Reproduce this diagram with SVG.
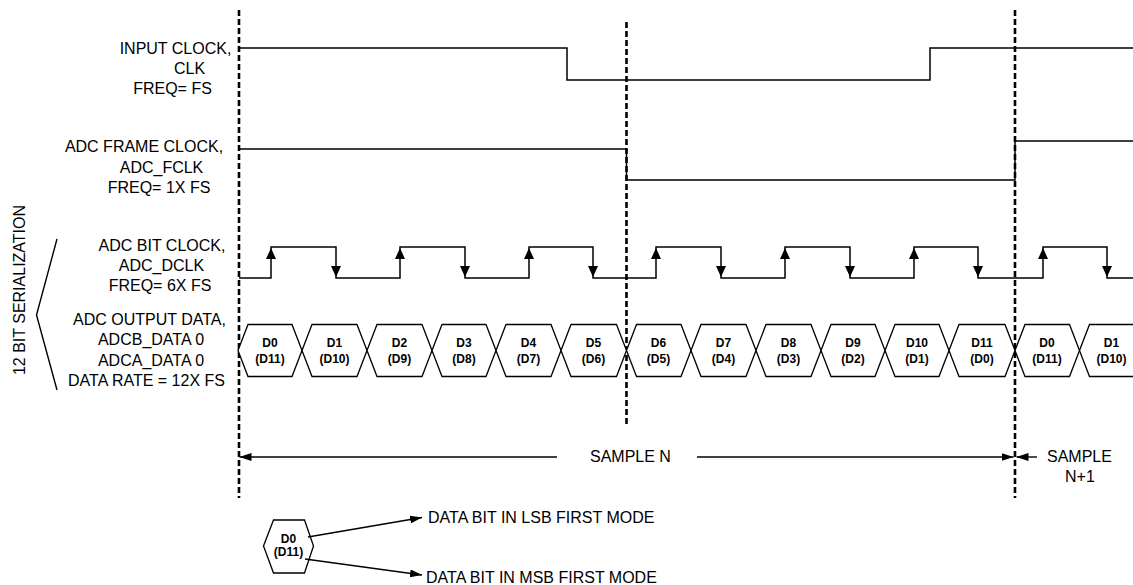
<svg xmlns="http://www.w3.org/2000/svg" xmlns:xlink="http://www.w3.org/1999/xlink" width="1133" height="585" viewBox="0 0 1133 585">
<style>
text{font-family:"Liberation Sans",Arial,sans-serif;fill:#000}
.lb{font-size:16px;text-anchor:middle}
.hx{font-size:12px;font-weight:bold;text-anchor:middle}
.w{fill:none;stroke:#000;stroke-width:1.5}
.hex{fill:#fff;stroke:#000;stroke-width:1.3}
.dash{stroke:#000;stroke-width:2.6;stroke-dasharray:6 3;fill:none}
.ln{stroke:#000;stroke-width:1.4;fill:none}
</style>
<defs>
<path id="up" d="M0,0 L-5,11 L5,11 Z" fill="#000"/>
<path id="dn" d="M0,0 L-5,-11 L5,-11 Z" fill="#000"/>
<marker id="ah" viewBox="0 0 12 8" refX="12" refY="4" markerWidth="12" markerHeight="8" markerUnits="userSpaceOnUse" orient="auto">
<path d="M0,0 L12,4 L0,8 Z" fill="#000"/>
</marker>
</defs>
<rect width="1133" height="585" fill="#fff"/>

<g id="sample-boundaries">
<line class="dash" x1="239" y1="10" x2="239" y2="498"/>
<line class="dash" x1="626.5" y1="22" x2="626.5" y2="424"/>
<line class="dash" x1="1015" y1="10" x2="1015" y2="498"/>
</g>

<g id="input-clock">
<text class="lb" x="175.5" y="54">INPUT CLOCK,</text>
<text class="lb" x="189.5" y="74">CLK</text>
<text class="lb" x="172.5" y="94">FREQ= FS</text>
<path class="w" d="M239,48 H567 V80 H930 V48 H1133"/>
</g>

<g id="frame-clock">
<text class="lb" x="144" y="152">ADC FRAME CLOCK,</text>
<text class="lb" x="161.5" y="172.5">ADC_FCLK</text>
<text class="lb" x="159" y="192.5">FREQ= 1X FS</text>
<path class="w" d="M239,149 H626.5 V180 H1015 V141 H1133"/>
</g>

<g id="bit-clock">
<text class="lb" x="162" y="251">ADC BIT CLOCK,</text>
<text class="lb" x="161.5" y="271">ADC_DCLK</text>
<text class="lb" x="160" y="291">FREQ= 6X FS</text>
<path class="w" d="M239,278 H271 V247 H336 V278 H400 V247 H465 V278 H529 V247 H593 V278 H656 V247 H721 V278 H785 V247 H850 V278 H914 V247 H978 V278 H1043 V247 H1107 V278 H1133"/>
<use xlink:href="#up" x="271" y="248"/>
<use xlink:href="#up" x="400" y="248"/>
<use xlink:href="#up" x="529" y="248"/>
<use xlink:href="#up" x="656" y="248"/>
<use xlink:href="#up" x="785" y="248"/>
<use xlink:href="#up" x="914" y="248"/>
<use xlink:href="#up" x="1043" y="248"/>
<use xlink:href="#dn" x="336" y="277"/>
<use xlink:href="#dn" x="465" y="277"/>
<use xlink:href="#dn" x="593" y="277"/>
<use xlink:href="#dn" x="721" y="277"/>
<use xlink:href="#dn" x="850" y="277"/>
<use xlink:href="#dn" x="978" y="277"/>
<use xlink:href="#dn" x="1107" y="277"/>
</g>

<g id="output-data">
<text class="lb" x="149.5" y="325">ADC OUTPUT DATA,</text>
<text class="lb" x="151" y="345">ADCB_DATA 0</text>
<text class="lb" x="151" y="365.5">ADCA_DATA 0</text>
<text class="lb" x="146.5" y="385.5">DATA RATE = 12X FS</text>
<g id="bit-d0"><polygon class="hex" points="238,350.5 248,324.5 292,324.5 302,350.5 292,376.5 248,376.5"/><text class="hx" x="270" y="347">D0</text><text class="hx" x="270" y="362.5">(D11)</text></g>
<g id="bit-d1"><polygon class="hex" points="302,350.5 312,324.5 357,324.5 367,350.5 357,376.5 312,376.5"/><text class="hx" x="334.5" y="347">D1</text><text class="hx" x="334.5" y="362.5">(D10)</text></g>
<g id="bit-d2"><polygon class="hex" points="367,350.5 377,324.5 422,324.5 432,350.5 422,376.5 377,376.5"/><text class="hx" x="399.5" y="347">D2</text><text class="hx" x="399.5" y="362.5">(D9)</text></g>
<g id="bit-d3"><polygon class="hex" points="432,350.5 442,324.5 486,324.5 496,350.5 486,376.5 442,376.5"/><text class="hx" x="464" y="347">D3</text><text class="hx" x="464" y="362.5">(D8)</text></g>
<g id="bit-d4"><polygon class="hex" points="496,350.5 506,324.5 551,324.5 561,350.5 551,376.5 506,376.5"/><text class="hx" x="528.5" y="347">D4</text><text class="hx" x="528.5" y="362.5">(D7)</text></g>
<g id="bit-d5"><polygon class="hex" points="561,350.5 571,324.5 616.5,324.5 626.5,350.5 616.5,376.5 571,376.5"/><text class="hx" x="593.5" y="347">D5</text><text class="hx" x="593.5" y="362.5">(D6)</text></g>
<g id="bit-d6"><polygon class="hex" points="626.5,350.5 636.5,324.5 681,324.5 691,350.5 681,376.5 636.5,376.5"/><text class="hx" x="658.5" y="347">D6</text><text class="hx" x="658.5" y="362.5">(D5)</text></g>
<g id="bit-d7"><polygon class="hex" points="691,350.5 701,324.5 746,324.5 756,350.5 746,376.5 701,376.5"/><text class="hx" x="723.5" y="347">D7</text><text class="hx" x="723.5" y="362.5">(D4)</text></g>
<g id="bit-d8"><polygon class="hex" points="756,350.5 766,324.5 811,324.5 821,350.5 811,376.5 766,376.5"/><text class="hx" x="788.5" y="347">D8</text><text class="hx" x="788.5" y="362.5">(D3)</text></g>
<g id="bit-d9"><polygon class="hex" points="821,350.5 831,324.5 875,324.5 885,350.5 875,376.5 831,376.5"/><text class="hx" x="853" y="347">D9</text><text class="hx" x="853" y="362.5">(D2)</text></g>
<g id="bit-d10"><polygon class="hex" points="885,350.5 895,324.5 939,324.5 949,350.5 939,376.5 895,376.5"/><text class="hx" x="917" y="347">D10</text><text class="hx" x="917" y="362.5">(D1)</text></g>
<g id="bit-d11"><polygon class="hex" points="949,350.5 959,324.5 1005,324.5 1015,350.5 1005,376.5 959,376.5"/><text class="hx" x="982" y="347">D11</text><text class="hx" x="982" y="362.5">(D0)</text></g>
<g id="next-d0"><polygon class="hex" points="1015,350.5 1025,324.5 1069.5,324.5 1079.5,350.5 1069.5,376.5 1025,376.5"/><text class="hx" x="1047" y="347">D0</text><text class="hx" x="1047" y="362.5">(D11)</text></g>
<g id="next-d1"><polygon class="hex" points="1079.5,350.5 1089.5,324.5 1134,324.5 1144,350.5 1134,376.5 1089.5,376.5"/><text class="hx" x="1111.5" y="347">D1</text><text class="hx" x="1111.5" y="362.5">(D10)</text></g>
</g>

<g id="serialization">
<path class="ln" d="M57,239 L36.5,315 L57,390"/>
<text class="lb" transform="translate(25,290) rotate(-90)" x="0" y="0">12 BIT SERIALIZATION</text>
</g>

<g id="sample-labels">
<text x="590" y="462" style="font-size:16px">SAMPLE N</text>
<text x="1047" y="462" style="font-size:16px">SAMPLE</text>
<text x="1065" y="482" style="font-size:16px">N+1</text>
</g>

<g id="legend">
<polygon class="hex" points="263.5,546 273.5,520 304.5,520 313.5,546 304.5,573 273.5,573"/>
<text class="hx" x="288.5" y="543">D0</text>
<text class="hx" x="288.5" y="556">(D11)</text>
<text x="428" y="523" style="font-size:16px">DATA BIT IN LSB FIRST MODE</text>
<text x="426" y="583" style="font-size:16px">DATA BIT IN MSB FIRST MODE</text>
</g>

<g id="connectors">
<line class="ln" x1="557" y1="457" x2="239.5" y2="457" marker-end="url(#ah)"/>
<line class="ln" x1="697" y1="457" x2="1013.5" y2="457" marker-end="url(#ah)"/>
<line class="ln" x1="1037" y1="457" x2="1016.5" y2="457" marker-end="url(#ah)"/>
<line class="ln" x1="308" y1="537" x2="422" y2="517.5" marker-end="url(#ah)"/>
<line class="ln" x1="305" y1="559" x2="422" y2="575" marker-end="url(#ah)"/>
</g>
</svg>
